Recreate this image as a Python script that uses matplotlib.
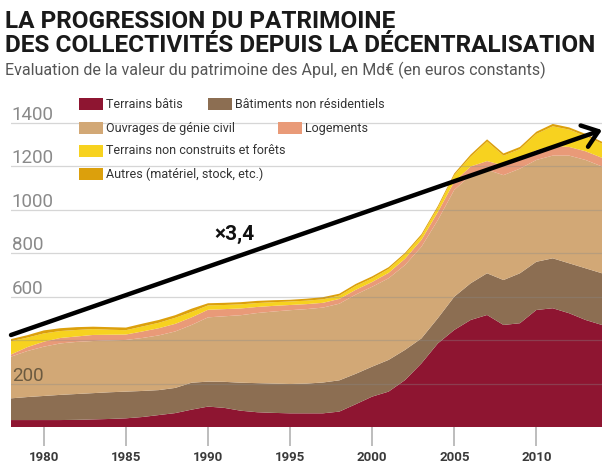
import numpy as np
import matplotlib
matplotlib.use("Agg")
import matplotlib.pyplot as plt
from matplotlib.patches import Rectangle

plt.rcParams["font.family"] = ["Roboto", "DejaVu Sans"]

# Patrimoine des Apul, Md€ constants
years = list(range(1978, 2015))
terrains_batis = [32, 32, 32, 32, 33, 35, 37, 40, 46, 55, 64, 80, 94, 88, 75, 68, 65, 63, 63,
                  63, 71, 105, 140, 163, 216, 293, 385, 447, 493, 516, 470, 478, 539, 547, 524, 493, 470]
batiments_non_res = [100, 106, 111, 116, 119, 121, 123, 123, 120, 115, 116, 124, 115, 120, 129, 134, 135, 135, 137,
                     142, 144, 140, 138, 146, 139, 115, 116, 153, 169, 192, 207, 230, 222, 230, 230, 238, 238]
genie_civil = [192, 212, 227, 237, 240, 240, 239, 238, 244, 252, 260, 266, 296, 302, 311, 323, 332, 340, 343,
               345, 353, 365, 368, 376, 391, 422, 452, 492, 498, 477, 483, 482, 469, 473, 496, 499, 492]
logements = [10, 18, 23, 25, 25, 28, 26, 25, 30, 33, 35, 35, 35, 33, 31, 28, 26, 24, 23,
             22, 22, 22, 22, 25, 29, 32, 37, 38, 40, 40, 45, 45, 45, 45, 40, 40, 40]
terrains_non_construits = [61, 44, 38, 32, 30, 27, 23, 20, 23, 25, 28, 25, 20, 19, 19, 18, 17, 16, 16,
                           16, 15, 18, 17, 18, 20, 18, 20, 30, 45, 90, 45, 45, 75, 90, 80, 70, 65]
autres = [10, 11, 14, 13, 13, 11, 12, 12, 13, 13, 12, 15, 10, 10, 10, 10, 9, 8, 9,
          10, 9, 9, 9, 8, 7, 8, 8, 8, 10, 10, 10, 10, 10, 11, 10, 10, 9]

series_labels = ["Terrains bâtis", "Bâtiments non résidentiels", "Ouvrages de génie civil",
                 "Logements", "Terrains non construits et forêts", "Autres (matériel, stock, etc.)"]
colors = ["#8e1531", "#8c6e52", "#d2a876", "#e99a78", "#f7d21f", "#dca00c"]

grid_vals = [200, 400, 600, 800, 1000, 1200, 1400]
ylabels = {200: "200", 600: "600", 800: "800", 1000: "1000", 1200: "1200", 1400: "1400"}
xticks = [1980, 1985, 1990, 1995, 2000, 2005, 2010]

W, H = 603, 467
fig = plt.figure(figsize=(W / 100, H / 100), dpi=100)


def px(x, y):
    return x / W, 1 - y / H


ppu = 0.2171  # pixels per Md€
ax = fig.add_axes([11 / W, 1 - 427 / H, (602 - 11) / W, (427 - 90) / H])
ax.set_xlim(1978, 2014)
ax.set_ylim(0, (427 - 90) / ppu)

ax.stackplot(years, terrains_batis, batiments_non_res, genie_civil, logements,
             terrains_non_construits, autres, colors=colors, lw=0)

for s in ax.spines.values():
    s.set_visible(False)
ax.set_yticks(grid_vals)
ax.yaxis.grid(True, color="#8a8a8a", alpha=0.35, lw=0.9)
ax.set_axisbelow(False)
ax.tick_params(axis="y", length=0, labelleft=False)
ax.set_xticks(xticks)
ax.tick_params(axis="x", length=14, width=1.3, color="#b8b8b8", pad=3, labelsize=9.5,
               labelcolor="#3a3a3a")
for lab in ax.get_xticklabels():
    lab.set_fontweight("bold")

for v, s in ylabels.items():
    col = "#6b5a40" if v == 200 else "#8a8a8a"
    ax.text(1978.05, v + 3 / ppu, s, fontsize=13.5, color=col, ha="left", va="baseline")

# flèche x3,4
ax.annotate("", xy=(2014, (427 - 130) / ppu), xytext=(1978, (427 - 335) / ppu),
            arrowprops=dict(arrowstyle="->,head_length=0.6,head_width=0.45", lw=3.2,
                            color="black", mutation_scale=18, shrinkA=0, shrinkB=0),
            annotation_clip=False)
ax.text(1991.6, (427 - 234) / ppu, "×3,4", fontsize=15, fontweight="bold",
        ha="center", va="center", color="#111111")

# légende
legend_pos = [(79, 104), (208, 104), (79, 128), (278, 128), (79, 151), (79, 174)]
for (lx, ly), lab, c in zip(legend_pos, series_labels, colors):
    fig.add_artist(Rectangle(px(lx, ly + 6), 24 / W, 12 / H, transform=fig.transFigure,
                             color=c, lw=0))
    fig.text(*px(lx + 27, ly), lab, fontsize=9, color="#333333", ha="left", va="center")

# titres
r = fig.canvas.get_renderer()
t1 = fig.text(*px(5, 28), "LA PROGRESSION DU PATRIMOINE", fontsize=16,
              fontweight="bold", color="#1a1a1a", ha="left", va="baseline")
t2 = fig.text(*px(5, 52), "DES COLLECTIVITÉS DEPUIS LA DÉCENTRALISATION", fontsize=16,
              fontweight="bold", color="#1a1a1a", ha="left", va="baseline")
w2 = t2.get_window_extent(r).width
fs = 16 * 593 / w2
t1.set_fontsize(fs)
t2.set_fontsize(fs)
st = fig.text(*px(5, 75), "Evaluation de la valeur du patrimoine des Apul, en Md€ (en euros constants)",
              fontsize=10, color="#555555", ha="left", va="baseline")
ws = st.get_window_extent(r).width
st.set_fontsize(10 * 540 / ws)

fig.savefig("out.png", dpi=100, facecolor="white")
